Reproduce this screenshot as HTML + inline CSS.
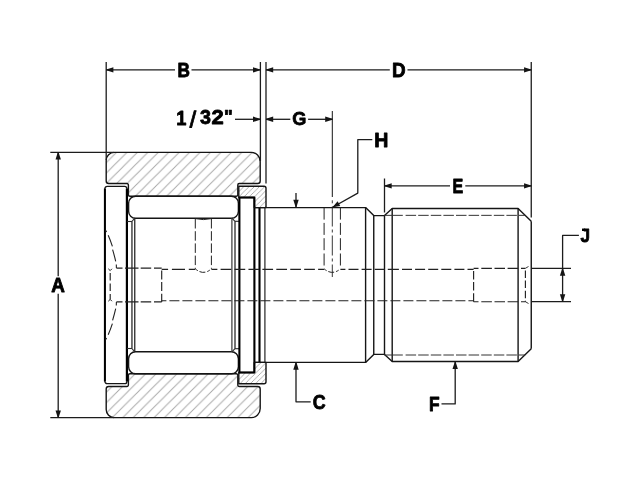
<!DOCTYPE html>
<html><head><meta charset="utf-8"><style>
html,body{margin:0;padding:0;background:#fff;}
body{width:640px;height:480px;overflow:hidden;font-family:"Liberation Sans",sans-serif;}
svg{display:block;} text{}
</style></head><body>
<svg width="640" height="480" viewBox="0 0 640 480">
<defs><pattern id="h1" patternUnits="userSpaceOnUse" x="7.900" y="0" width="10.44" height="10.44">
<path d="M-10.44,10.44 L10.44,-10.44 M0,10.44 L10.44,0 M0,20.88 L20.88,0" stroke="#a8a8a8" stroke-width="0.95"/></pattern><pattern id="h2" patternUnits="userSpaceOnUse" x="2.380" y="0" width="5.22" height="5.22">
<path d="M-5.22,5.22 L5.22,-5.22 M0,5.22 L5.22,0 M0,10.44 L10.44,0" stroke="#a0a0a0" stroke-width="0.85"/></pattern></defs>
<rect width="640" height="480" fill="#fff"/>
<g stroke-linecap="butt" stroke-linejoin="round">
<path d="M114.2,152.4 H251.2 A9,9 0 0 1 260.2,161.4 V181 A2.5,2.5 0 0 1 257.7,183.5 H239.3 A1.5,1.5 0 0 0 237.8,185 V194.8 A1.5,1.5 0 0 1 236.3,196.3 H129.9 A1.5,1.5 0 0 1 128.4,194.8 V185 A1.5,1.5 0 0 0 126.9,183.5 H108.7 A2.5,2.5 0 0 1 106.2,181 V160.4 A8,8 0 0 1 114.2,152.4 Z" stroke="#151515" stroke-width="1.4" fill="url(#h1)" />
<path d="M114.2,417.6 H251.2 A9,9 0 0 0 260.2,408.6 V389.0 A2.5,2.5 0 0 0 257.7,386.5 H239.3 A1.5,1.5 0 0 1 237.8,385.0 V375.2 A1.5,1.5 0 0 0 236.3,373.7 H129.9 A1.5,1.5 0 0 0 128.4,375.2 V385.0 A1.5,1.5 0 0 1 126.9,386.5 H108.7 A2.5,2.5 0 0 0 106.2,389.0 V409.6 A8,8 0 0 0 114.2,417.6 Z" stroke="#151515" stroke-width="1.4" fill="url(#h1)" />
<path d="M238.8,186.3 H264 A2,2 0 0 1 266,188.3 V207.6 H254.3 V197.5 H238.8 Z" stroke="#151515" stroke-width="1.4" fill="url(#h2)" />
<path d="M238.8,383.7 H264 A2,2 0 0 0 266,381.7 V362.4 H254.3 V372.5 H238.8 Z" stroke="#151515" stroke-width="1.4" fill="url(#h2)" />
<path d="M104.9,381.6 V188.6 A2.2,2.2 0 0 1 107.1,186.4 H124.7 A2.2,2.2 0 0 1 126.9,188.6 V381.4 A2.2,2.2 0 0 1 124.7,383.6 H107.1 A2.2,2.2 0 0 1 104.9,381.4 Z" stroke="#151515" stroke-width="1.3" fill="none" />
<line x1="104.9" y1="188.6" x2="104.9" y2="381.4" stroke="#000" stroke-width="2.0" />
<line x1="126.9" y1="188.6" x2="126.9" y2="381.4" stroke="#000" stroke-width="2.2" />
<rect x="128.6" y="196.3" width="109.80000000000001" height="21.899999999999977" rx="7" fill="#fff" stroke="#151515" stroke-width="1.4"/>
<rect x="128.6" y="351.8" width="109.80000000000001" height="21.899999999999977" rx="7" fill="#fff" stroke="#151515" stroke-width="1.4"/>
<line x1="131.95" y1="221.5" x2="131.95" y2="348.5" stroke="#2a2a2a" stroke-width="1.3" />
<line x1="134.75" y1="218.2" x2="134.75" y2="351.8" stroke="#2a2a2a" stroke-width="1.3" />
<line x1="127" y1="221.5" x2="131.95" y2="221.5" stroke="#2a2a2a" stroke-width="1.1" />
<line x1="131.95" y1="221.5" x2="134.75" y2="218.2" stroke="#2a2a2a" stroke-width="1.1" />
<line x1="127" y1="348.5" x2="131.95" y2="348.5" stroke="#2a2a2a" stroke-width="1.1" />
<line x1="131.95" y1="348.5" x2="134.75" y2="351.8" stroke="#2a2a2a" stroke-width="1.1" />
<line x1="231.9" y1="218.2" x2="231.9" y2="351.8" stroke="#444" stroke-width="1.3" />
<line x1="235.0" y1="221.3" x2="235.0" y2="348.7" stroke="#2a2a2a" stroke-width="1.3" />
<line x1="235" y1="221.3" x2="239.4" y2="221.3" stroke="#2a2a2a" stroke-width="1.1" />
<line x1="231.9" y1="218.2" x2="235" y2="221.3" stroke="#2a2a2a" stroke-width="1.1" />
<line x1="235" y1="348.7" x2="239.4" y2="348.7" stroke="#2a2a2a" stroke-width="1.1" />
<line x1="231.9" y1="351.8" x2="235" y2="348.7" stroke="#2a2a2a" stroke-width="1.1" />
<rect x="239.4" y="197.5" width="15.0" height="175.0" fill="none" stroke="#000" stroke-width="2.1"/>
<line x1="259.5" y1="207.6" x2="259.5" y2="362.4" stroke="#000" stroke-width="2.1" />
<line x1="264.9" y1="207.6" x2="264.9" y2="362.4" stroke="#333" stroke-width="1.3" />
<path d="M254.3,207.6 H365.6 L373.75,215.6 H384.5 L392.2,208.5 H518.1 L531.25,221.25" stroke="#151515" stroke-width="1.4" fill="none" />
<path d="M254.3,362.4 H365.6 L373.75,354.4 H384.5 L392.2,361.5 H518.1 L531.25,348.75" stroke="#151515" stroke-width="1.4" fill="none" />
<line x1="365.6" y1="207.6" x2="365.6" y2="362.4" stroke="#151515" stroke-width="1.4" />
<line x1="373.75" y1="215.6" x2="373.75" y2="354.4" stroke="#151515" stroke-width="1.4" />
<line x1="384.5" y1="215.6" x2="384.5" y2="354.4" stroke="#151515" stroke-width="1.4" />
<line x1="392.2" y1="208.5" x2="392.2" y2="361.5" stroke="#151515" stroke-width="1.4" />
<line x1="518.1" y1="208.5" x2="518.1" y2="361.5" stroke="#151515" stroke-width="1.4" />
<line x1="531.25" y1="221.25" x2="531.25" y2="348.75" stroke="#151515" stroke-width="1.4" />
<path d="M384.5,215.35H402.8 M405.6,215.35H416.1 M418.2,215.35H428.7 M430.8,215.35H441.3 M443.4,215.35H453.9 M456.0,215.35H466.5 M468.6,215.35H479.1 M481.2,215.35H491.7 M493.8,215.35H504.3 M506.4,215.35H516.9 M519.0,215.35H525.2" stroke="#333" stroke-width="1.0" fill="none"/>
<path d="M384.5,355.0H402.8 M405.6,355.0H416.1 M418.2,355.0H428.7 M430.8,355.0H441.3 M443.4,355.0H453.9 M456.0,355.0H466.5 M468.6,355.0H479.1 M481.2,355.0H491.7 M493.8,355.0H504.3 M506.4,355.0H516.9 M519.0,355.0H525.2" stroke="#333" stroke-width="1.0" fill="none"/>
<path d="M161.7,269.3H168.1 M171.9,269.3H185.0 M188.8,269.3H195.3 M211.4,269.3H217.37 M220.6,269.3H231.3 M234.53,269.3H245.23 M248.46,269.3H259.16 M262.39,269.3H273.09 M276.32,269.3H287.02 M290.25,269.3H300.95 M304.18,269.3H314.88 M318.11,269.3H324.1 M340.4,269.3H345.4 M348.5,269.3H358.5 M361.6,269.3H371.6 M374.7,269.3H384.7 M387.8,269.3H392.2 M392.2,269.3H398.9 M402.0,269.3H412.0 M415.1,269.3H425.1 M428.2,269.3H438.2 M441.3,269.3H451.3 M454.4,269.3H464.4 M467.5,269.3H473.6" stroke="#222" stroke-width="1.15" fill="none"/>
<path d="M161.7,300.7H166.4 M169.4,300.7H179.4 M182.4,300.7H192.4 M195.4,300.7H205.4 M208.4,300.7H218.4 M221.4,300.7H231.4 M234.4,300.7H244.4 M247.4,300.7H257.4 M260.4,300.7H270.4 M273.4,300.7H283.4 M286.4,300.7H296.4 M299.4,300.7H309.4 M312.4,300.7H322.4 M325.4,300.7H335.4 M338.4,300.7H348.4 M351.4,300.7H361.4 M364.4,300.7H374.4 M377.4,300.7H387.4 M390.4,300.7H400.4 M403.4,300.7H413.4 M416.4,300.7H426.4 M429.4,300.7H439.4 M442.4,300.7H452.4 M455.4,300.7H465.4 M468.4,300.7H473.6" stroke="#222" stroke-width="1.15" fill="none"/>
<path d="M116.4,268.1H122.5 M125,268.1H138.5 M140.7,268.1H151.2 M154,268.1H161.7" stroke="#222" stroke-width="1.15" fill="none"/>
<path d="M116.4,301.9H122.5 M125,301.9H138.5 M140.7,301.9H151.2 M154,301.9H161.7" stroke="#222" stroke-width="1.15" fill="none"/>
<path d="M473.6,268.3H478.5 M481.3,268.3H491.9 M494.5,268.3H505 M507.6,268.3H518.1 M521,268.3H525.4" stroke="#222" stroke-width="1.15" fill="none"/>
<path d="M473.6,301.7H478.5 M481.3,301.7H491.9 M494.5,301.7H505 M507.6,301.7H518.1 M521,301.7H525.4" stroke="#222" stroke-width="1.15" fill="none"/>
<path d="M161.7,270.5V279.5 M161.7,282.1V291.1 M161.7,293.7V301.9" stroke="#222" stroke-width="1.15" fill="none"/>
<path d="M473.6,271.0V279.5 M473.6,282.1V290.6 M473.6,293.2V301.7" stroke="#222" stroke-width="1.15" fill="none"/>
<path d="M110.2,273.0V280.5 M110.2,283.5V291.0 M110.2,294.0V299.4" stroke="#222" stroke-width="1.15" fill="none"/>
<path d="M525.4,270.5V278.0 M525.4,280.6V288.1 M525.4,290.7V298.2 M525.4,300.8V301.7" stroke="#222" stroke-width="1.15" fill="none"/>
<line x1="108.3" y1="268.8" x2="110.2" y2="270.6" stroke="#222" stroke-width="1.0" />
<line x1="111.9" y1="268.8" x2="110.2" y2="270.6" stroke="#222" stroke-width="1.0" />
<line x1="525.4" y1="268.3" x2="528.5" y2="266.5" stroke="#222" stroke-width="0.9" />
<path d="M105.6,230.4 L106.6,232 M108.2,235.2 Q110.5,240.5 112.4,246.3 M112.6,249.7 Q114.3,255.3 115.7,261.3 M116.3,264.6 L116.4,268.1" stroke="#222" stroke-width="1.1" fill="none" />
<line x1="108.3" y1="301.2" x2="110.2" y2="299.4" stroke="#222" stroke-width="1.0" />
<line x1="111.9" y1="301.2" x2="110.2" y2="299.4" stroke="#222" stroke-width="1.0" />
<line x1="525.4" y1="301.7" x2="528.5" y2="303.5" stroke="#222" stroke-width="0.9" />
<path d="M105.6,339.6 L106.6,338.0 M108.2,334.8 Q110.5,329.5 112.4,323.7 M112.6,320.3 Q114.3,314.7 115.7,308.7 M116.3,305.4 L116.4,301.9" stroke="#222" stroke-width="1.1" fill="none" />
<line x1="195.3" y1="219" x2="195.3" y2="268.8" stroke="#222" stroke-width="1.0" stroke-dasharray="9.5 2.7"/>
<line x1="211.4" y1="219" x2="211.4" y2="268.8" stroke="#222" stroke-width="1.0" stroke-dasharray="9.5 2.7"/>
<path d="M195.3,218.6 Q203.35,220.6 211.4,218.6" stroke="#222" stroke-width="1.0" fill="none" />
<path d="M195.3,268.8 Q203.35,276 211.4,268.8" stroke="#222" stroke-width="1.0" fill="none" stroke-dasharray="3 2 6 2 3 9"/>
<line x1="324.1" y1="207.6" x2="324.1" y2="268.8" stroke="#222" stroke-width="1.0" stroke-dasharray="12 3.3"/>
<line x1="340.4" y1="207.6" x2="340.4" y2="268.8" stroke="#222" stroke-width="1.0" stroke-dasharray="12 3.3"/>
<path d="M324.1,268.8 Q332.25,276 340.4,268.8" stroke="#222" stroke-width="1.0" fill="none" stroke-dasharray="3 2 6 2 3 9"/>
<line x1="332.3" y1="111" x2="332.3" y2="197" stroke="#151515" stroke-width="1.0" />
<line x1="332.3" y1="200.3" x2="332.3" y2="203.3" stroke="#222" stroke-width="0.9" />
<line x1="332.3" y1="206.5" x2="332.3" y2="277" stroke="#222" stroke-width="0.9" stroke-dasharray="20 3 3 3"/>
<line x1="106.2" y1="62" x2="106.2" y2="160" stroke="#1c1c1c" stroke-width="1.3" />
<line x1="260.4" y1="62" x2="260.4" y2="161" stroke="#1c1c1c" stroke-width="1.3" />
<line x1="266.0" y1="62" x2="266.0" y2="183.5" stroke="#1c1c1c" stroke-width="1.3" />
<line x1="531.25" y1="62" x2="531.25" y2="217.5" stroke="#1c1c1c" stroke-width="1.3" />
<line x1="106.2" y1="69.9" x2="175" y2="69.9" stroke="#1c1c1c" stroke-width="1.3" />
<line x1="191.5" y1="69.9" x2="260.2" y2="69.9" stroke="#1c1c1c" stroke-width="1.3" />
<polygon points="106.20,69.45 113.40,67.20 113.40,72.60 106.20,70.35" fill="#151515"/>
<polygon points="260.20,69.45 253.00,67.20 253.00,72.60 260.20,70.35" fill="#151515"/>
<line x1="266" y1="69.9" x2="389.8" y2="69.9" stroke="#1c1c1c" stroke-width="1.3" />
<line x1="407.5" y1="69.9" x2="531.25" y2="69.9" stroke="#1c1c1c" stroke-width="1.3" />
<polygon points="266.00,69.45 273.20,67.20 273.20,72.60 266.00,70.35" fill="#151515"/>
<polygon points="531.25,69.45 524.05,67.20 524.05,72.60 531.25,70.35" fill="#151515"/>
<line x1="235" y1="119.3" x2="260.2" y2="119.3" stroke="#1c1c1c" stroke-width="1.3" />
<polygon points="260.20,118.85 253.00,116.60 253.00,122.00 260.20,119.75" fill="#151515"/>
<line x1="266" y1="119.3" x2="290.3" y2="119.3" stroke="#1c1c1c" stroke-width="1.3" />
<line x1="308.1" y1="119.3" x2="332.4" y2="119.3" stroke="#1c1c1c" stroke-width="1.3" />
<polygon points="266.00,118.85 273.20,116.60 273.20,122.00 266.00,119.75" fill="#151515"/>
<polygon points="332.40,118.85 325.20,116.60 325.20,122.00 332.40,119.75" fill="#151515"/>
<path d="M372.3,139.7 H357.8 V193.1 L332.6,207.3" stroke="#1c1c1c" stroke-width="1.3" fill="none" />
<polygon points="332.50,207.35 340.27,206.07 337.62,201.37" fill="#151515"/>
<line x1="384.5" y1="178.5" x2="384.5" y2="212.5" stroke="#1c1c1c" stroke-width="1.3" />
<line x1="384.5" y1="185.9" x2="450" y2="185.9" stroke="#1c1c1c" stroke-width="1.3" />
<line x1="465.3" y1="185.9" x2="531.25" y2="185.9" stroke="#1c1c1c" stroke-width="1.3" />
<polygon points="384.50,185.45 391.70,183.20 391.70,188.60 384.50,186.35" fill="#151515"/>
<polygon points="531.25,185.45 524.05,183.20 524.05,188.60 531.25,186.35" fill="#151515"/>
<line x1="50.3" y1="152.35" x2="114" y2="152.35" stroke="#1c1c1c" stroke-width="1.35" />
<line x1="50.3" y1="417.6" x2="114" y2="417.6" stroke="#1c1c1c" stroke-width="1.35" />
<line x1="58.2" y1="152.4" x2="58.2" y2="276.3" stroke="#1c1c1c" stroke-width="1.3" />
<line x1="58.2" y1="293.7" x2="58.2" y2="417.6" stroke="#1c1c1c" stroke-width="1.3" />
<polygon points="57.75,152.40 55.50,159.60 60.90,159.60 58.65,152.40" fill="#151515"/>
<polygon points="57.75,417.60 55.50,410.40 60.90,410.40 58.65,417.60" fill="#151515"/>
<line x1="296" y1="193" x2="296" y2="207" stroke="#1c1c1c" stroke-width="1.3" />
<polygon points="295.55,207.00 293.30,199.80 298.70,199.80 296.45,207.00" fill="#151515"/>
<path d="M296,362.6 V401.8 H310.7" stroke="#1c1c1c" stroke-width="1.3" fill="none" />
<polygon points="295.55,362.60 293.30,369.80 298.70,369.80 296.45,362.60" fill="#151515"/>
<path d="M441.5,403.9 H455.2 V362" stroke="#1c1c1c" stroke-width="1.3" fill="none" />
<polygon points="454.75,361.90 452.50,369.10 457.90,369.10 455.65,361.90" fill="#151515"/>
<path d="M578.9,235.4 H562.6 V301.6" stroke="#1c1c1c" stroke-width="1.3" fill="none" />
<line x1="531.25" y1="268.4" x2="571" y2="268.4" stroke="#1c1c1c" stroke-width="1.3" />
<line x1="531.25" y1="301.6" x2="571" y2="301.6" stroke="#1c1c1c" stroke-width="1.3" />
<polygon points="562.15,268.60 559.90,275.80 565.30,275.80 563.05,268.60" fill="#151515"/>
<polygon points="562.15,301.40 559.90,294.20 565.30,294.20 563.05,301.40" fill="#151515"/>
</g>
<g font-family="Liberation Sans, sans-serif" font-weight="bold" fill="#000" stroke="#000" stroke-width="0.8" stroke-linejoin="round" style="will-change:transform">
<text transform="translate(177.478,76.524) scale(0.8824,1.0018)" font-size="19.5">B</text>
<text transform="translate(392.052,76.524) scale(0.9686,1.0018)" font-size="19.5">D</text>
<text transform="translate(176.180,124.524) scale(0.9367,1.0018)" font-size="19.5">1</text>
<text transform="translate(189.584,126.882) skewX(-7) scale(0.9077,1.1574)" font-size="19.5">/</text>
<text transform="translate(199.900,124.376) scale(1.0095,0.9983)" font-size="19.5">3</text>
<text transform="translate(211.468,124.424) scale(1.1268,1.0017)" font-size="19.5">2</text>
<text transform="translate(224.072,123.067) scale(0.9467,0.9067)" font-size="19.5">&quot;</text>
<text transform="translate(292.252,125.485) scale(0.9286,0.9846)" font-size="19.5">G</text>
<text transform="translate(374.321,146.526) scale(1.0041,0.9982)" font-size="19.5">H</text>
<text transform="translate(452.378,192.528) scale(0.8255,0.9912)" font-size="19.5">E</text>
<text transform="translate(51.179,291.523) scale(0.9658,1.0053)" font-size="19.5">A</text>
<text transform="translate(312.656,409.159) scale(0.9174,1.0256)" font-size="19.5">C</text>
<text transform="translate(429.019,410.726) scale(0.8930,0.9982)" font-size="19.5">F</text>
<text transform="translate(580.410,242.083) scale(0.8800,0.9878)" font-size="19.5">J</text>
<rect x="582.0" y="228.55" width="3.2" height="2.45" stroke="none"/>
</g>
</svg>
</body></html>
